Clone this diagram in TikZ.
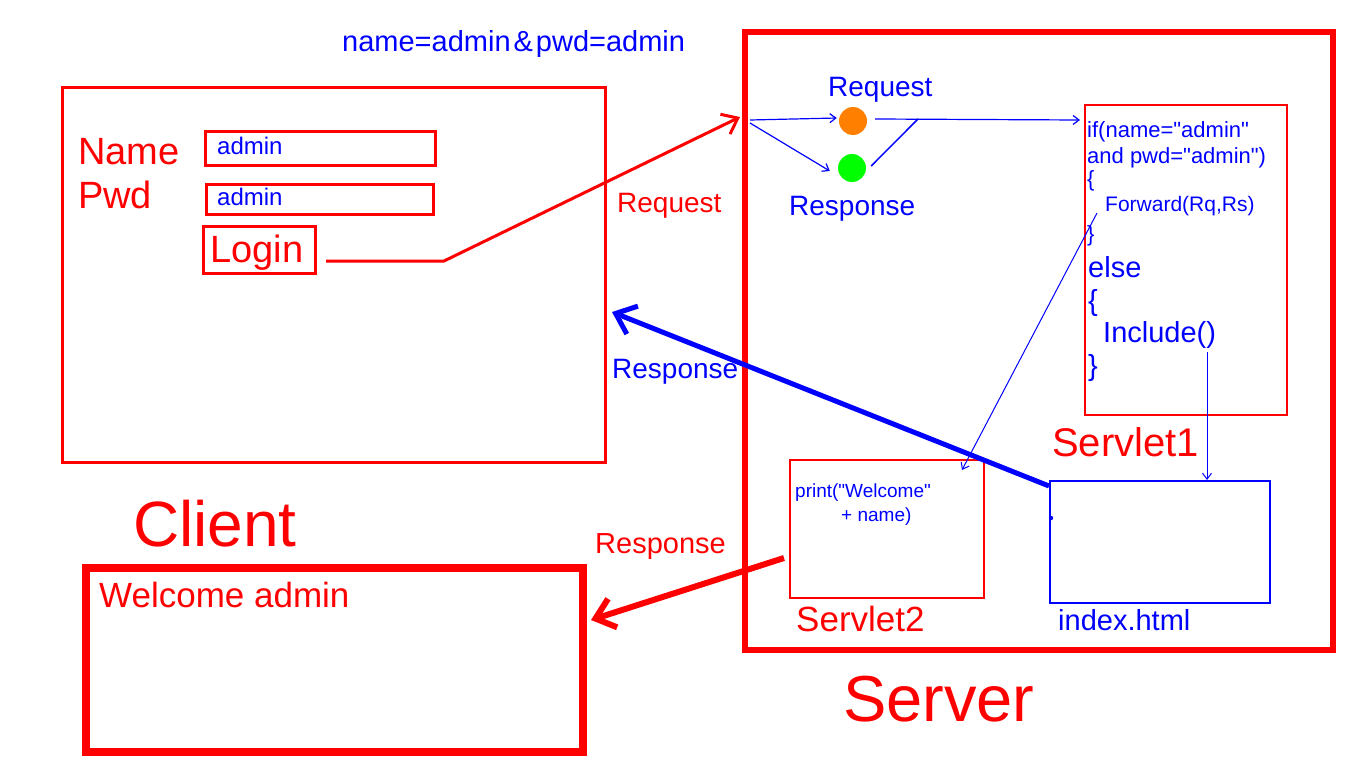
\documentclass[tikz,border=0pt]{standalone}
\usepackage{fontspec}
\setmainfont{Liberation Sans}[Ligatures=TeXOff]
\usepackage{xcolor}
\usetikzlibrary{arrows.meta,calc}

\definecolor{sheetred}{RGB}{255,0,0}
\definecolor{sheetblue}{RGB}{0,0,255}
\definecolor{dotorange}{RGB}{255,128,0}
\definecolor{dotgreen}{RGB}{0,255,0}
\newcommand{\fsz}[1]{\fontsize{#1}{#1}\selectfont}

\begin{document}
\begin{tikzpicture}[x=1pt, y=-1pt,
    redbox/.style={draw=sheetred, inner sep=0pt},
    bluebox/.style={draw=sheetblue, inner sep=0pt},
    redtxt/.style={text=sheetred, inner sep=0pt, anchor=base west},
    bluetxt/.style={text=sheetblue, inner sep=0pt, anchor=base west},
    thinblue/.style={draw=sheetblue, line width=1.2pt, -{Straight Barb[length=6pt,width=9pt]}},
    dot/.style={circle, inner sep=0pt, minimum size=28pt}]

    \fill[white] (0,0) rectangle (1366,768);
    \useasboundingbox (0,0) rectangle (1366,768);

    % Define the client side
    \begin{scope}
        \node[redbox, line width=3pt, minimum width=543pt, minimum height=374pt] (clientform) at (333.5,275) {};
        \node[redbox, line width=3pt, minimum width=230pt, minimum height=34pt] (namefield) at (320,148) {};
        \node[redbox, line width=3pt, minimum width=227pt, minimum height=30pt] (pwdfield) at (319.5,199) {};
        \node[redbox, line width=3pt, minimum width=112pt, minimum height=47pt] (loginbtn) at (259,249.5) {};

        \node[redtxt] (namelbl) at (78,164) {\fsz{38}Name};
        \node[redtxt] (pwdlbl) at (78,208) {\fsz{38}Pwd};
        \node[bluetxt] (nameval) at (217,154) {\fsz{24}admin};
        \node[bluetxt] (pwdval) at (217,205) {\fsz{24}admin};
        \node[redtxt] (loginlbl) at (210,262) {\fsz{38}Login};

        \node[redtxt] (clientlbl) at (133,546) {\fsz{64}Client};
        \node[redbox, line width=8pt, minimum width=497pt, minimum height=184pt] (welcomebox) at (334.5,660) {};
        \node[redtxt] (welcomelbl) at (99,607) {\fsz{35}Welcome admin};

        \node[bluetxt] (querylbl) at (342,52) {\fsz{29}name=admin\hspace{3pt}\&\hspace{3pt}pwd=admin};
    \end{scope}

    % Define the server side
    \begin{scope}
        \node[redbox, line width=6pt, minimum width=588pt, minimum height=618pt] (server) at (1039,341) {};
        \node[redtxt] (serverlbl) at (843,721) {\fsz{65}Server};

        \node[dot, fill=dotorange] (reqdot) at (853,121) {};
        \node[dot, fill=dotgreen] (resdot) at (852,168) {};
        \node[bluetxt] (reqlbl) at (828,96) {\fsz{28}Request};
        \node[bluetxt] (reslbl) at (789,215) {\fsz{28}Response};

        \node[redbox, line width=2pt, minimum width=202pt, minimum height=310pt] (servletone) at (1186,260) {};
        \node[bluetxt] (codeA) at (1087,137) {\fsz{22}if(name="admin"};
        \node[bluetxt] (codeB) at (1087,163) {\fsz{22}and pwd="admin")};
        \node[bluetxt] (codeC) at (1087,186) {\fsz{22}\{};
        \node[bluetxt] (codeD) at (1105,211) {\fsz{21}Forward(Rq,Rs)};
        \node[bluetxt] (codeE) at (1087,241) {\fsz{22}\}};
        \node[bluetxt] (codeF) at (1088,277) {\fsz{29}else};
        \node[bluetxt] (codeG) at (1088,310) {\fsz{29}\{};
        \node[bluetxt] (codeH) at (1103,342) {\fsz{29}Include()};
        \node[bluetxt] (codeI) at (1088,375) {\fsz{29}\}};
        \node[redtxt] (servletonelbl) at (1052,456) {\fsz{40}Servlet1};

        \node[redbox, line width=2pt, minimum width=194pt, minimum height=138pt] (servlettwo) at (887,529) {};
        \node[bluetxt] (printA) at (795,497) {\fsz{19}print("Welcome"};
        \node[bluetxt] (printB) at (841,521) {\fsz{19}+ name)};
        \node[redtxt] (servlettwolbl) at (796,631) {\fsz{35}Servlet2};

        \node[bluebox, line width=2pt, minimum width=220pt, minimum height=122pt] (indexhtml) at (1160,542) {};
        \fill[sheetblue] ($(indexhtml.west)+(2,-24)$) circle (2.2pt);
        \node[bluetxt] (indexlbl) at (1058,630) {\fsz{29}index.html};
    \end{scope}

    % Free ends of the connectors
    \coordinate (loginout) at (326,261);
    \coordinate (loginkink) at (444,261);
    \coordinate (reqin) at (740,117);
    \coordinate (srvin) at (750,120);
    \coordinate (fork) at (918,119);
    \coordinate (fwdout) at (1097,213);
    \coordinate (inclout) at (1207,352);
    \coordinate (respin) at (612,312);

    % Draw the connectors
    \draw[sheetred, line width=3pt, -{Straight Barb[length=14pt,width=22pt,line width=3pt]}]
        (loginout) -- (loginkink) -- (reqin);
    \node[redtxt] (reqred) at (617,212) {\fsz{28}Request};

    \draw[thinblue] (srvin) -- ($(reqdot.west)+(-2,-3)$);
    \draw[thinblue] ($(srvin)+(0,3)$) -- ($(resdot.west)+(-8,3)$);
    \draw[thinblue] ($(reqdot.east)+(8,-2)$) -- ($(servletone.west |- reqdot)+(-4,-1)$);
    \draw[sheetblue, line width=1.5pt] ($(resdot.east)+(5,-2)$) -- (fork);
    \draw[thinblue, line width=1pt] (fwdout) -- ($(servlettwo.north east)+(-23,11)$);
    \draw[thinblue, line width=1pt] (inclout) -- (inclout |- indexhtml.north);

    \draw[sheetblue, line width=5pt, -{Straight Barb[length=18pt,width=30pt,line width=5pt]}]
        ($(indexhtml.north west)+(0,6)$) -- (respin);
    \node[bluetxt] (resblue) at (612,378) {\fsz{28}Response};

    \draw[sheetred, line width=6pt, -{Straight Barb[length=18pt,width=30pt,line width=6pt]}]
        ($(servlettwo.west)+(-5,29)$) -- ($(welcomebox.east)+(4,-40)$);
    \node[redtxt] (resred) at (595,553) {\fsz{29}Response};
\end{tikzpicture}
\end{document}
